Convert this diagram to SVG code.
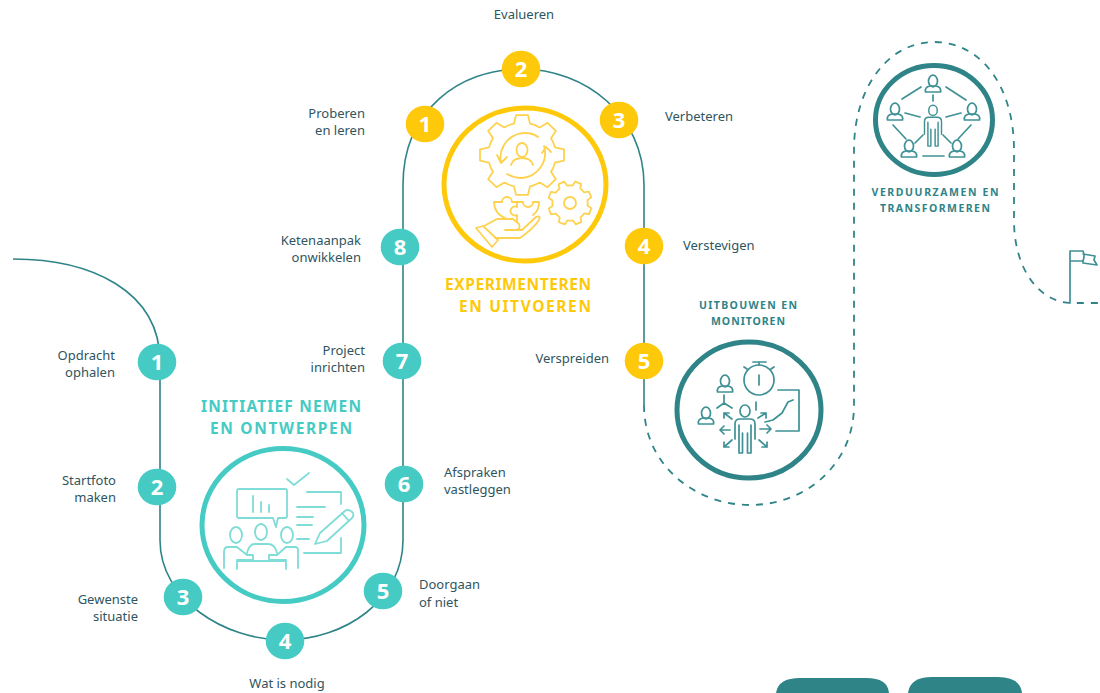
<svg xmlns="http://www.w3.org/2000/svg" width="1100" height="693" viewBox="0 0 1100 693">
<style>
text{font-family:"Noto Sans","Open Sans",sans-serif}
.lb{font-size:13px;fill:#2f5560}
.e{text-anchor:end}.m{text-anchor:middle}
.path{fill:none;stroke:#2f8488;stroke-width:1.6}
.dash{fill:none;stroke:#2f8488;stroke-width:1.8;stroke-dasharray:7 7}
.nt{font-size:22px;font-weight:700;fill:#fff;text-anchor:middle}
.tq{fill:#46cbc4}.ye{fill:#ffc90b}
.ti{fill:none;stroke:#7fdcd7;stroke-width:1.8;stroke-linecap:round;stroke-linejoin:round}
.yi{fill:none;stroke:#fdd24f;stroke-width:1.8;stroke-linecap:round;stroke-linejoin:round}
.di{fill:none;stroke:#3f9195;stroke-width:1.7;stroke-linecap:round;stroke-linejoin:round}
.h1{font-size:15.5px;font-weight:700;text-anchor:middle}
.h2{font-size:10.5px;font-weight:700;fill:#2f8488;text-anchor:middle}
</style>
<defs>
<g id="person"><ellipse cx="0" cy="-4" rx="4.5" ry="5.8" class="di"/><path class="di" d="M-7.5 7Q-8.5 2-3 1H3Q8.5 2 7.5 7Z"/></g>
<g id="body"><ellipse cx="0" cy="-16" rx="5" ry="6" class="di"/><path class="di" d="M-10 12V-3Q-10-8-5-8H5Q10-8 10-3V12M-6-2V26M6-2V26M-2.5 6V26M2.5 6V26M-6 26H-2.5M2.5 26H6"/></g>
<path id="gear" d="M33-8L42-6V6L33 8A33 33 0 0 1 29 17.7L33.9 25.5L25.5 33.9L17.7 29A33 33 0 0 1 8 33L6 42H-6L-8 33A33 33 0 0 1-17.7 29L-25.5 33.9L-33.9 25.5L-29 17.7A33 33 0 0 1-33 8L-42 6V-6L-33-8A33 33 0 0 1-29-17.7L-33.9-25.5L-25.5-33.9L-17.7-29A33 33 0 0 1-8-33L-6-42H6L8-33A33 33 0 0 1 17.7-29L25.5-33.9L33.9-25.5L29-17.7A33 33 0 0 1 33-8Z"/>
</defs>
<g id="connectors">
<path class="path" d="M13 259C90 259 160 290 160 362V540C160 600 225 640 284 640C345 640 403 600 403 540V185C403 110 460 69 521 69C585 69 644 115 644 185V405"/>
<path class="dash" d="M644 405C644 465 695 505 750 505C805 505 854 465 854 405V150C854 85 890 42 934 42C980 42 1014 85 1014 150V220C1014 270 1040 303 1072 303H1100"/>
</g>
<g id="step-a1"><ellipse class="tq" cx="157" cy="362" rx="19.3" ry="18.3"/><text class="nt" x="157" y="370">1</text><text class="lb e" x="115" y="360">Opdracht</text><text class="lb e" x="115" y="377">ophalen</text></g>
<g id="step-a2"><ellipse class="tq" cx="157" cy="487" rx="19.3" ry="18.3"/><text class="nt" x="157" y="495">2</text><text class="lb e" x="116" y="485">Startfoto</text><text class="lb e" x="116" y="502">maken</text></g>
<g id="step-a3"><ellipse class="tq" cx="183" cy="597" rx="19.3" ry="18.3"/><text class="nt" x="183" y="605">3</text><text class="lb e" x="138" y="604">Gewenste</text><text class="lb e" x="138" y="621">situatie</text></g>
<g id="step-a4"><ellipse class="tq" cx="285" cy="641" rx="19.3" ry="18.3"/><text class="nt" x="285" y="649">4</text><text class="lb m" x="287" y="688">Wat is nodig</text></g>
<g id="step-a5"><ellipse class="tq" cx="383" cy="591" rx="19.3" ry="18.3"/><text class="nt" x="383" y="599">5</text><text class="lb" x="419" y="589">Doorgaan</text><text class="lb" x="419" y="607">of niet</text></g>
<g id="step-a6"><ellipse class="tq" cx="404" cy="484" rx="19.3" ry="18.3"/><text class="nt" x="404" y="492">6</text><text class="lb" x="444" y="477">Afspraken</text><text class="lb" x="444" y="494">vastleggen</text></g>
<g id="step-a7"><ellipse class="tq" cx="402" cy="361" rx="19.3" ry="18.3"/><text class="nt" x="402" y="369">7</text><text class="lb e" x="365" y="355">Project</text><text class="lb e" x="365" y="372">inrichten</text></g>
<g id="step-a8"><ellipse class="tq" cx="400" cy="247" rx="19.3" ry="18.3"/><text class="nt" x="400" y="255">8</text><text class="lb e" x="361" y="245">Ketenaanpak</text><text class="lb e" x="361" y="262">onwikkelen</text></g>
<g id="step-b1"><ellipse class="ye" cx="425" cy="124" rx="19.3" ry="18.3"/><text class="nt" x="425" y="132">1</text><text class="lb e" x="365" y="118">Proberen</text><text class="lb e" x="365" y="135">en leren</text></g>
<g id="step-b2"><ellipse class="ye" cx="521" cy="69" rx="19.3" ry="18.3"/><text class="nt" x="521" y="77">2</text><text class="lb m" x="524" y="19">Evalueren</text></g>
<g id="step-b3"><ellipse class="ye" cx="619" cy="120" rx="19.3" ry="18.3"/><text class="nt" x="619" y="128">3</text><text class="lb" x="665" y="121">Verbeteren</text></g>
<g id="step-b4"><ellipse class="ye" cx="644" cy="246" rx="19.3" ry="18.3"/><text class="nt" x="644" y="254">4</text><text class="lb" x="683" y="250">Verstevigen</text></g>
<g id="step-b5"><ellipse class="ye" cx="644" cy="361" rx="19.3" ry="18.3"/><text class="nt" x="644" y="369">5</text><text class="lb e" x="609" y="363">Verspreiden</text></g>
<g id="phase-initiatief">
<text class="h1" x="281" y="412" fill="#46cbc4" textLength="160">INITIATIEF NEMEN</text>
<text class="h1" x="281" y="434" fill="#46cbc4" textLength="142">EN ONTWERPEN</text>
<ellipse cx="283" cy="525" rx="81" ry="76.5" fill="none" stroke="#46cbc4" stroke-width="5"/>
<path class="ti" d="M287 479L294 485L309 473M239 489H285Q287 489 287 491V516Q287 518 285 518H278L276 527L273 518H239Q237 518 237 516V491Q237 489 239 489ZM253 496V512M261 502V512M269 505V512"/>
<path class="ti" d="M307 492H341V504M297 507H325M297 517H313M297 525H312M297 539H309M341 538V553H304"/>
<path class="ti" d="M315 544L320 533L346 510Q350 509 353 513Q354 516 352 518L327 541ZM342 513L349 521"/>
<ellipse class="ti" cx="236" cy="535" rx="6" ry="8"/><ellipse class="ti" cx="261" cy="532" rx="6" ry="8"/><ellipse class="ti" cx="287" cy="535" rx="6" ry="8"/>
<path class="ti" d="M224 568V552Q224 547 228 547H237L247 555H253V560H237V569M298 568V550Q298 547 295 547H286L277 555H269V560H286V569M247 553Q249 544 255 544H268Q275 544 277 553M237 561H286"/>
</g>
<g id="phase-experimenteren">
<text class="h1" x="518" y="290" fill="#ffc90b" textLength="146">EXPERIMENTEREN</text>
<text class="h1" x="525" y="312" fill="#ffc90b" textLength="132">EN UITVOEREN</text>
<ellipse cx="525" cy="184.5" rx="81" ry="76.5" fill="none" stroke="#ffc90b" stroke-width="5"/>
<use href="#gear" class="yi" transform="translate(522 155) scale(1 .95)"/>
<use href="#gear" class="yi" style="stroke-width:3.4" transform="translate(570 203) rotate(22) scale(.52)"/>
<circle class="yi" cx="570" cy="203" r="6"/>
<path class="yi" d="M501 163A25 25 0 0 1 518 134Q530 131 538 137M544 146A25 25 0 0 1 522 178Q514 178 507 174M501 163L497 155M501 163L507 157M546 147L542 153M546 147L551 152"/>
<ellipse class="yi" cx="522" cy="150" rx="5.5" ry="7"/><path class="yi" d="M511 165Q513 158 522 158Q531 158 533 165"/>
<path class="yi" d="M494 202H502A5 5 0 1 1 512 202H517V207A4.5 4.5 0 1 0 517 215V222M517 202H523A5 5 0 1 0 533 202H539Q539 211 533 215M494 202Q494 214 507 219"/>
<path class="yi" d="M476 228L483 226L498 240L492 247ZM484 226L497 219H513L519 224Q521 230 515 230H505M515 230H522L536 217Q541 215 539 220Q533 229 520 238H495"/>
</g>
<g id="phase-uitbouwen">
<text class="h2" x="748" y="309" textLength="98">UITBOUWEN EN</text>
<text class="h2" x="748" y="325" textLength="74">MONITOREN</text>
<ellipse cx="749" cy="410" rx="72" ry="68" fill="none" stroke="#2f8488" stroke-width="5"/>
<use href="#person" x="725" y="385"/><use href="#person" x="706" y="417"/><use href="#body" x="745" y="427"/>
<circle class="di" cx="759" cy="380" r="15"/>
<path class="di" d="M753 362H766M759 362V365M759 375V385M747 369L744 367M771 369L774 367M778 390H799V431H776M756 402V410M765 422L773 420L782 413L788 402L793 400"/>
<path class="di" d="M724 395V403L717 408M724 403L732 408M732 419L724 413M724 413V418M724 413H729M758 418L766 413M766 413V418M766 413H761M730 430H720M720 430L724 426M720 430L724 434M760 429H771M771 429L767 425M771 429L767 433M732 440L724 447M724 447V442M724 447H729M759 440L767 447M767 447V442M767 447H762"/>
</g>
<g id="phase-verduurzamen">
<ellipse cx="934" cy="120" rx="58.5" ry="54.5" fill="none" stroke="#2f8488" stroke-width="5"/>
<use href="#person" x="933" y="85"/><use href="#person" x="895" y="113"/><use href="#person" x="972" y="113"/><use href="#person" x="909" y="150"/><use href="#person" x="957" y="150"/>
<use href="#body" transform="translate(933 124) scale(.85)"/>
<path class="di" d="M902 99L921 87M946 87L966 100M905 113L920 117M946 117L961 113M893 125L906 139M971 125L958 139M915 143L923 135M951 143L943 135M923 156H944M933 95V101"/>
<text class="h2" x="935" y="196" textLength="127">VERDUURZAMEN EN</text>
<text class="h2" x="935" y="212" textLength="110">TRANSFORMEREN</text>
</g>
<g id="flag">
<path class="di" d="M1070 303V251H1083Q1085 256 1083 261H1070M1083 254L1095 256L1094 260L1097 265L1083 263V261"/>
</g>
<g id="tabs">
<path fill="#2f8488" d="M776 693Q778 678 800 678H866Q888 678 889 693Z"/>
<path fill="#2f8488" d="M908 693Q910 677 932 677H998Q1020 677 1022 693Z"/>
</g>
</svg>
